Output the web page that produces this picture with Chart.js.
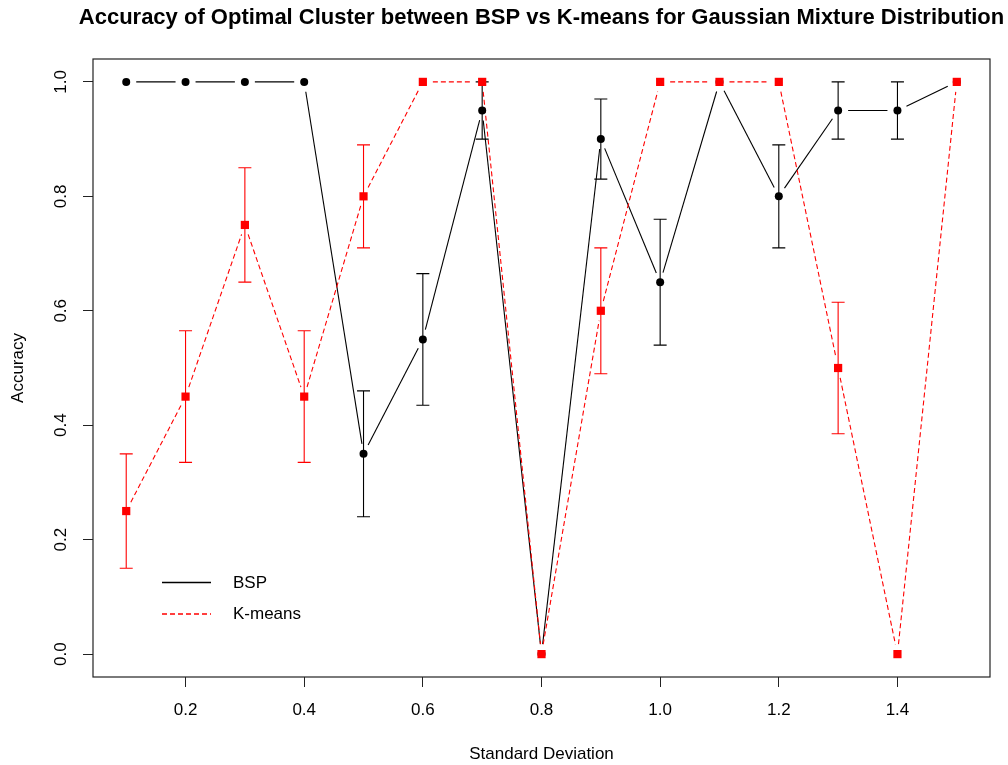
<!DOCTYPE html>
<html>
<head>
<meta charset="utf-8">
<title>Accuracy of Optimal Cluster</title>
<script src="https://cdn.jsdelivr.net/npm/chart.js@4.4.1/dist/chart.umd.min.js"></script>
<style>
  html, body { margin: 0; padding: 0; background: #fff; }
  #wrap { width: 1008px; height: 765px; }
</style>
</head>
<body>
<div id="wrap"><canvas id="accChart" width="1008" height="765"></canvas></div>
<script>
// Standard deviations of the simulated mixtures
const sds = [0.1, 0.2, 0.3, 0.4, 0.5, 0.6, 0.7, 0.8, 0.9, 1.0, 1.1, 1.2, 1.3, 1.4, 1.5];

// Mean accuracy and standard error for BSP
const bspAcc = [1, 1, 1, 1, 0.35, 0.55, 0.95, 0, 0.9, 0.65, 1, 0.8, 0.95, 0.95, 1];
const bspErr = [0, 0, 0, 0, 0.11, 0.115, 0.05, 0, 0.07, 0.11, 0, 0.09, 0.05, 0.05, 0];

// Mean accuracy and standard error for K-means
const kmAcc = [0.25, 0.45, 0.75, 0.45, 0.8, 1, 1, 0, 0.6, 1, 1, 1, 0.5, 0, 1];
const kmErr = [0.1, 0.115, 0.1, 0.115, 0.09, 0, 0, 0, 0.11, 0, 0, 0, 0.115, 0, 0];

const xTicks = [0.2, 0.4, 0.6, 0.8, 1.0, 1.2, 1.4];
const yTicks = [0.0, 0.2, 0.4, 0.6, 0.8, 1.0];

const FONT = '"Liberation Sans", Arial, sans-serif';

function toPoints(ys) {
  return sds.map((x, i) => ({ x: x, y: ys[i] }));
}

// Lines between points, stopping short of each marker (like type = "b")
const gappedLines = {
  id: 'gappedLines',
  beforeDatasetsDraw(chart) {
    const ctx = chart.ctx;
    const gap = 10;
    // draw BSP first, then K-means on top
    [1, 0].forEach(di => {
      const ds = chart.data.datasets[di];
      const pts = chart.getDatasetMeta(di).data;
      ctx.save();
      ctx.strokeStyle = ds.lineColor;
      ctx.lineWidth = 1.1;
      for (let j = 0; j < pts.length - 1; j++) {
        const a = pts[j], b = pts[j + 1];
        const dx = b.x - a.x, dy = b.y - a.y;
        const d = Math.hypot(dx, dy);
        if (d <= 2 * gap) continue;
        const ux = dx / d, uy = dy / d;
        ctx.setLineDash(ds.lineDash);
        ctx.beginPath();
        ctx.moveTo(a.x + ux * gap, a.y + uy * gap);
        ctx.lineTo(b.x - ux * gap, b.y - uy * gap);
        ctx.stroke();
      }
      ctx.restore();
    });

    // error bars with flat caps
    const xs = chart.scales.x, ys = chart.scales.y;
    [[bspAcc, bspErr, '#000000'], [kmAcc, kmErr, '#ff0000']].forEach(([acc, err, col]) => {
      ctx.save();
      ctx.strokeStyle = col;
      ctx.lineWidth = 1.1;
      sds.forEach((sd, i) => {
        if (!err[i]) return;
        const px = xs.getPixelForValue(sd);
        const lo = ys.getPixelForValue(Math.max(0, acc[i] - err[i]));
        const hi = ys.getPixelForValue(Math.min(1, acc[i] + err[i]));
        ctx.beginPath();
        ctx.moveTo(px, lo); ctx.lineTo(px, hi);
        ctx.moveTo(px - 6.5, lo); ctx.lineTo(px + 6.5, lo);
        ctx.moveTo(px - 6.5, hi); ctx.lineTo(px + 6.5, hi);
        ctx.stroke();
      });
      ctx.restore();
    });
  }
};

// Legend entries: label, colour, dash pattern
const legendItems = [
  { text: 'BSP', color: 'rgb(0, 0, 0)', dash: [], y: 582.5 },
  { text: 'K-means', color: 'rgb(255, 0, 0)', dash: [5, 3], y: 614 }
];

// Title, box, rotated y labels and the legend
const frame = {
  id: 'frame',
  afterDraw(chart) {
    const ctx = chart.ctx;
    const area = chart.chartArea;
    const ys = chart.scales.y;
    ctx.save();

    ctx.strokeStyle = '#222';
    ctx.lineWidth = 1.2;
    ctx.strokeRect(area.left, area.top, area.right - area.left, area.bottom - area.top);

    ctx.fillStyle = '#000';
    ctx.font = 'bold 22px ' + FONT;
    ctx.textAlign = 'center';
    ctx.textBaseline = 'alphabetic';
    ctx.fillText('Accuracy of Optimal Cluster between BSP vs K-means for Gaussian Mixture Distribution',
      (area.left + area.right) / 2, 24);

    ctx.font = '17px ' + FONT;
    ctx.textBaseline = 'middle';
    yTicks.forEach(v => {
      ctx.save();
      ctx.translate(61, ys.getPixelForValue(v));
      ctx.rotate(-Math.PI / 2);
      ctx.fillText(v.toFixed(1), 0, 0);
      ctx.restore();
    });
    ctx.restore();

    // legend, no box
    legendItems.forEach(item => {
      ctx.save();
      ctx.setLineDash(item.dash);
      ctx.strokeStyle = item.color;
      ctx.lineWidth = 1.3;
      ctx.beginPath();
      ctx.moveTo(162, item.y);
      ctx.lineTo(211, item.y);
      ctx.stroke();
      ctx.fillStyle = '#000';
      ctx.font = '17px ' + FONT;
      ctx.textAlign = 'left';
      ctx.textBaseline = 'middle';
      ctx.fillText(item.text, 233, item.y + 0.5);
      ctx.restore();
    });
  }
};

const ctx = document.getElementById('accChart').getContext('2d');
new Chart(ctx, {
  type: 'scatter',
  data: {
    datasets: [
      {
        label: 'K-means',
        data: toPoints(kmAcc),
        showLine: false,
        pointStyle: 'rect',
        pointRadius: 5.8,
        pointHoverRadius: 5.8,
        pointBackgroundColor: '#ff0000',
        pointBorderWidth: 0,
        lineColor: '#ff0000',
        lineDash: [5, 3]
      },
      {
        label: 'BSP',
        data: toPoints(bspAcc),
        showLine: false,
        pointStyle: 'circle',
        pointRadius: 4,
        pointHoverRadius: 4,
        pointBackgroundColor: '#000000',
        pointBorderWidth: 0,
        lineColor: '#000000',
        lineDash: []
      }
    ]
  },
  options: {
    responsive: false,
    animation: false,
    devicePixelRatio: 1,
    layout: { padding: { top: 59, right: 18, left: 0, bottom: 0 } },
    plugins: {
      legend: { display: false },
      title: { display: false },
      tooltip: { enabled: false }
    },
    scales: {
      x: {
        type: 'linear',
        min: 0.044,
        max: 1.556,
        afterFit: s => { s.height = 88; },
        afterBuildTicks: s => { s.ticks = xTicks.map(v => ({ value: v })); },
        border: { display: false },
        grid: { drawOnChartArea: false, drawTicks: true, tickLength: 10, color: '#222' },
        ticks: {
          padding: 13,
          maxRotation: 0,
          color: '#000',
          font: { family: FONT, size: 17 },
          callback: v => v.toFixed(1)
        },
        title: {
          display: true,
          text: 'Standard Deviation',
          color: '#000',
          font: { family: FONT, size: 17 },
          padding: { top: 0, bottom: 0 }
        }
      },
      y: {
        min: -0.04,
        max: 1.04,
        afterFit: s => { s.width = 93; },
        afterBuildTicks: s => { s.ticks = yTicks.map(v => ({ value: v })); },
        border: { display: false },
        grid: { drawOnChartArea: false, drawTicks: true, tickLength: 10, color: '#222' },
        ticks: { display: false },
        title: {
          display: true,
          text: 'Accuracy',
          color: '#000',
          font: { family: FONT, size: 17 },
          padding: { top: 8, bottom: 0 }
        }
      }
    }
  },
  plugins: [gappedLines, frame]
});
</script>
</body>
</html>
